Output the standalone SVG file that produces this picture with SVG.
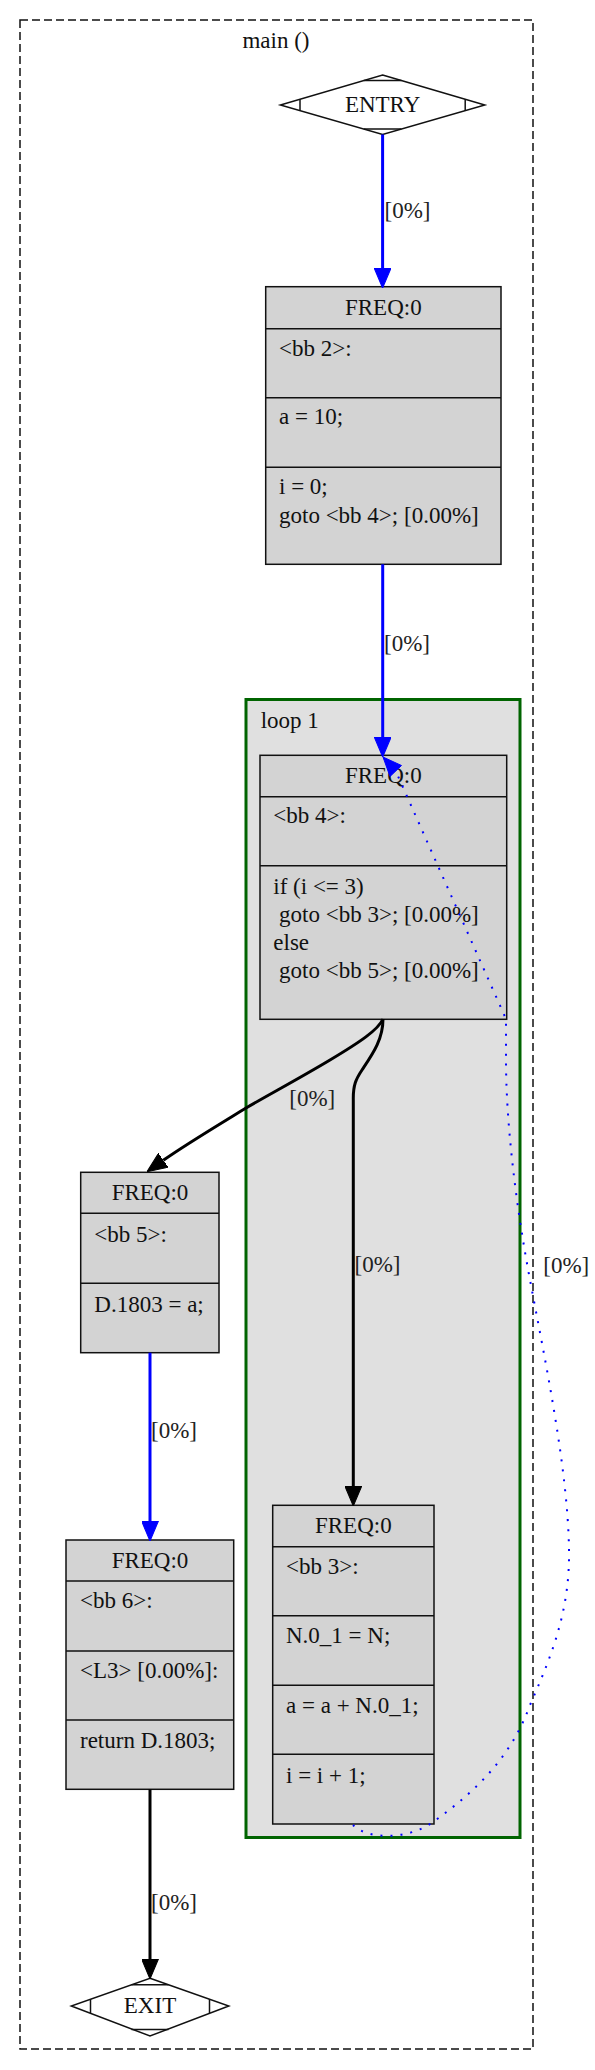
<svg xmlns="http://www.w3.org/2000/svg" width="595" height="2070" viewBox="0 0 595 2070">
<style>
text{font-family:"Liberation Serif","Times New Roman",serif;font-size:23px;fill:#111;white-space:pre}
.c{text-anchor:middle}
.lbl{fill:#222}
.node rect{fill:#d3d3d3;stroke:#111;stroke-width:1.5}
.node line{stroke:#111;stroke-width:1.5}
.dia{fill:#fff;stroke:#111;stroke-width:1.5}
.blue{fill:none;stroke:#0000ff;stroke-width:3}
.black{fill:none;stroke:#000;stroke-width:3}
.dot{fill:none;stroke:#0000ff;stroke-width:2;stroke-dasharray:2,8}
</style>
<defs>
<marker id="ab" markerUnits="userSpaceOnUse" markerWidth="20" markerHeight="17" viewBox="0 0 19 16" refX="0" refY="8" orient="auto"><path d="M0,0 L19,8 L0,16 z" fill="#0000ff" stroke="#0000ff" stroke-width="1"/></marker>
<marker id="ak" markerUnits="userSpaceOnUse" markerWidth="20" markerHeight="17" viewBox="0 0 19 16" refX="0" refY="8" orient="auto"><path d="M0,0 L19,8 L0,16 z" fill="#000" stroke="#000" stroke-width="1"/></marker>
</defs>
<rect width="595" height="2070" fill="#fff"/>
<g id="cluster_main">
<rect x="20" y="20" width="513" height="2029" fill="none" stroke="#111" stroke-width="1.5" stroke-dasharray="8,4"/>
<text class="c" x="276" y="48.3">main ()</text>
</g>
<g id="cluster_loop1">
<rect x="246" y="699.5" width="274" height="1138" fill="#e0e0e0" stroke="#006400" stroke-width="3"/>
<text x="260.7" y="727.7">loop 1</text>
</g>
<g id="entry">
<polygon class="dia" points="382.6,75 484.8,105 382.6,134.5 280.4,105"/>
<line x1="363.8" y1="80.5" x2="401.4" y2="80.5" stroke="#111" stroke-width="1.5"/>
<line x1="363.8" y1="129" x2="401.4" y2="129" stroke="#111" stroke-width="1.5"/>
<line x1="300" y1="99.2" x2="300" y2="110.8" stroke="#111" stroke-width="1.5"/>
<line x1="465.2" y1="99.2" x2="465.2" y2="110.8" stroke="#111" stroke-width="1.5"/>
<text class="c" x="382.6" y="112.3">ENTRY</text>
</g>
<g id="bb2" class="node">
<rect x="265.7" y="286.7" width="235.3" height="277.6"/>
<line x1="265.7" y1="328.7" x2="501" y2="328.7"/>
<line x1="265.7" y1="397.7" x2="501" y2="397.7"/>
<line x1="265.7" y1="467.3" x2="501" y2="467.3"/>
<text class="c" x="383.3" y="315">FREQ:0</text>
<text x="279" y="356">&lt;bb 2&gt;:</text>
<text x="279" y="424.3">a = 10;</text>
<text x="279" y="494.3">i = 0;</text>
<text x="279" y="523">goto &lt;bb 4&gt;; [0.00%]</text>
</g>
<g id="bb4" class="node">
<rect x="260" y="755.3" width="246.7" height="264"/>
<line x1="260" y1="796.7" x2="506.7" y2="796.7"/>
<line x1="260" y1="865.7" x2="506.7" y2="865.7"/>
<text class="c" x="383.3" y="782.7">FREQ:0</text>
<text x="273.3" y="823.3">&lt;bb 4&gt;:</text>
<text x="273.3" y="894.3">if (i &lt;= 3)</text>
<text x="273.3" y="921.9" xml:space="preserve"> goto &lt;bb 3&gt;; [0.00%]</text>
<text x="273.3" y="949.5">else</text>
<text x="273.3" y="977.5" xml:space="preserve"> goto &lt;bb 5&gt;; [0.00%]</text>
</g>
<g id="bb5" class="node">
<rect x="80.7" y="1172.3" width="138.3" height="180.4"/>
<line x1="80.7" y1="1213.3" x2="219" y2="1213.3"/>
<line x1="80.7" y1="1283.3" x2="219" y2="1283.3"/>
<text class="c" x="150" y="1200">FREQ:0</text>
<text x="94.3" y="1241.7">&lt;bb 5&gt;:</text>
<text x="94.3" y="1311.7">D.1803 = a;</text>
</g>
<g id="bb3" class="node">
<rect x="272.7" y="1505.3" width="161.3" height="318.7"/>
<line x1="272.7" y1="1546.7" x2="434" y2="1546.7"/>
<line x1="272.7" y1="1615.7" x2="434" y2="1615.7"/>
<line x1="272.7" y1="1685.3" x2="434" y2="1685.3"/>
<line x1="272.7" y1="1754.3" x2="434" y2="1754.3"/>
<text class="c" x="353.3" y="1532.7">FREQ:0</text>
<text x="286" y="1574">&lt;bb 3&gt;:</text>
<text x="286" y="1643.3">N.0_1 = N;</text>
<text x="286" y="1713.3">a = a + N.0_1;</text>
<text x="286" y="1782.7">i = i + 1;</text>
</g>
<g id="bb6" class="node">
<rect x="66" y="1540" width="167.7" height="249.3"/>
<line x1="66" y1="1581" x2="233.7" y2="1581"/>
<line x1="66" y1="1651" x2="233.7" y2="1651"/>
<line x1="66" y1="1720" x2="233.7" y2="1720"/>
<text class="c" x="150" y="1568.3">FREQ:0</text>
<text x="80" y="1608.3">&lt;bb 6&gt;:</text>
<text x="80" y="1678.3">&lt;L3&gt; [0.00%]:</text>
<text x="80" y="1748.3">return D.1803;</text>
</g>
<g id="exit">
<polygon class="dia" points="150,1978.3 228.8,2006 150,2036 71.3,2006"/>
<line x1="131.5" y1="1984.8" x2="168.5" y2="1984.8" stroke="#111" stroke-width="1.5"/>
<line x1="131.5" y1="2029.4" x2="168.5" y2="2029.4" stroke="#111" stroke-width="1.5"/>
<line x1="90.5" y1="1999" x2="90.5" y2="2013" stroke="#111" stroke-width="1.5"/>
<line x1="209.5" y1="1999" x2="209.5" y2="2013" stroke="#111" stroke-width="1.5"/>
<text class="c" x="150" y="2013.3">EXIT</text>
</g>
<g id="connectors">
<path class="blue" d="M382.6,134.5 L382.6,268" marker-end="url(#ab)"/>
<text class="lbl" x="384.5" y="218.3">[0%]</text>
<path class="blue" d="M382.7,564.3 L382.7,737" marker-end="url(#ab)"/>
<text class="lbl" x="384" y="650.7">[0%]</text>
<path class="black" d="M383,1019 C378,1030 360,1042 330,1060 C300,1078 270,1094 246,1108 C215,1127 185,1145 163.3,1160.3" marker-end="url(#ak)"/>
<text class="lbl" x="289.3" y="1106">[0%]</text>
<path class="black" d="M383,1019 C383,1040 372,1055 362,1070 C356,1079 353,1085 353.3,1100 L353.3,1486" marker-end="url(#ak)"/>
<text class="lbl" x="354.5" y="1272">[0%]</text>
<path class="dot" d="M353,1825 C368,1840 408,1840 433,1822 C478,1790 512,1755 530,1705 C552,1655 570,1610 569,1550 C568,1470 545,1360 530,1280 C515,1200 506,1120 506,1060 L506,1019 L395.5,770.5"/>
<polygon points="383,757 401.5,765.5 390,776.5" fill="#0000ff" stroke="#0000ff" stroke-width="1"/>
<text class="lbl" x="543.3" y="1273.3">[0%]</text>
<path class="blue" d="M150,1352.7 L150,1521" marker-end="url(#ab)"/>
<text class="lbl" x="151" y="1438.3">[0%]</text>
<path class="black" d="M150,1789.3 L150,1959" marker-end="url(#ak)"/>
<text class="lbl" x="151" y="1910">[0%]</text>
</g>
</svg>
